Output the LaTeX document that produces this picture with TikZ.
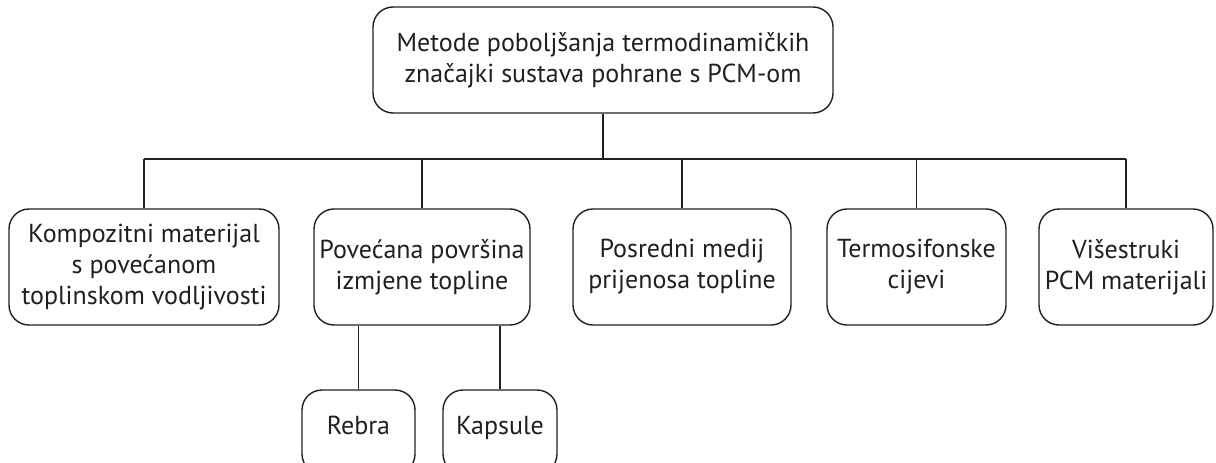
\documentclass[tikz,border=0pt]{standalone}
\usepackage{fontspec}
\setmainfont{PT Sans}
\definecolor{ink}{HTML}{231F20}

\begin{document}
\begin{tikzpicture}[x=1pt, y=-1pt,
		box/.style={draw=ink, line width=1.4pt, rounded corners=20pt, align=center,
			inner sep=0pt, text=ink, font=\fontsize{26}{31}\selectfont, minimum height=116pt},
		leaf/.style={box, minimum height=84pt, text depth=14pt},
		link/.style={draw=ink, line width=1.3pt}]
				%%%%% START %%%%%
				\useasboundingbox (0,0) rectangle (1216,463);
				
				\node[box, minimum width=460pt, minimum height=106pt] (root) at (603,60)
					{Metode poboljšanja termodinamičkih\\značajki sustava pohrane s PCM-om};
				
				\node[box, minimum width=270pt] (komp) at (144,267) {Kompozitni materijal\\s povećanom\\toplinskom vodljivosti};
				\node[box, minimum width=216pt] (povr) at (422,267) {Povećana površina\\izmjene topline};
				\node[box, minimum width=218pt] (medij) at (682,267) {Posredni medij\\prijenosa topline};
				\node[box, minimum width=179pt] (termo) at (916.5,267) {Termosifonske\\cijevi};
				\node[box, minimum width=174pt] (visc) at (1126,267) {Višestruki\\PCM materijali};
				
				\node[leaf, minimum width=113pt] (rebra) at (358.5,432) {Rebra};
				\node[leaf, minimum width=114pt] (kaps) at (500,432) {Kapsule};
				
				\coordinate (bus) at (0,159);
				\draw[link] (root.south) -- (root.south |- bus);
				\draw[link] (komp.north |- bus) -- (visc.north |- bus);
				\foreach \n in {komp,povr,medij,termo,visc}
					\draw[link] (\n.north) -- (\n.north |- bus);
				
				\draw[link] (rebra.north) -- (rebra.north |- povr.south);
				\draw[link] (kaps.north) -- (kaps.north |- povr.south);
				%%%%% END %%%%%
\end{tikzpicture}
\end{document}
